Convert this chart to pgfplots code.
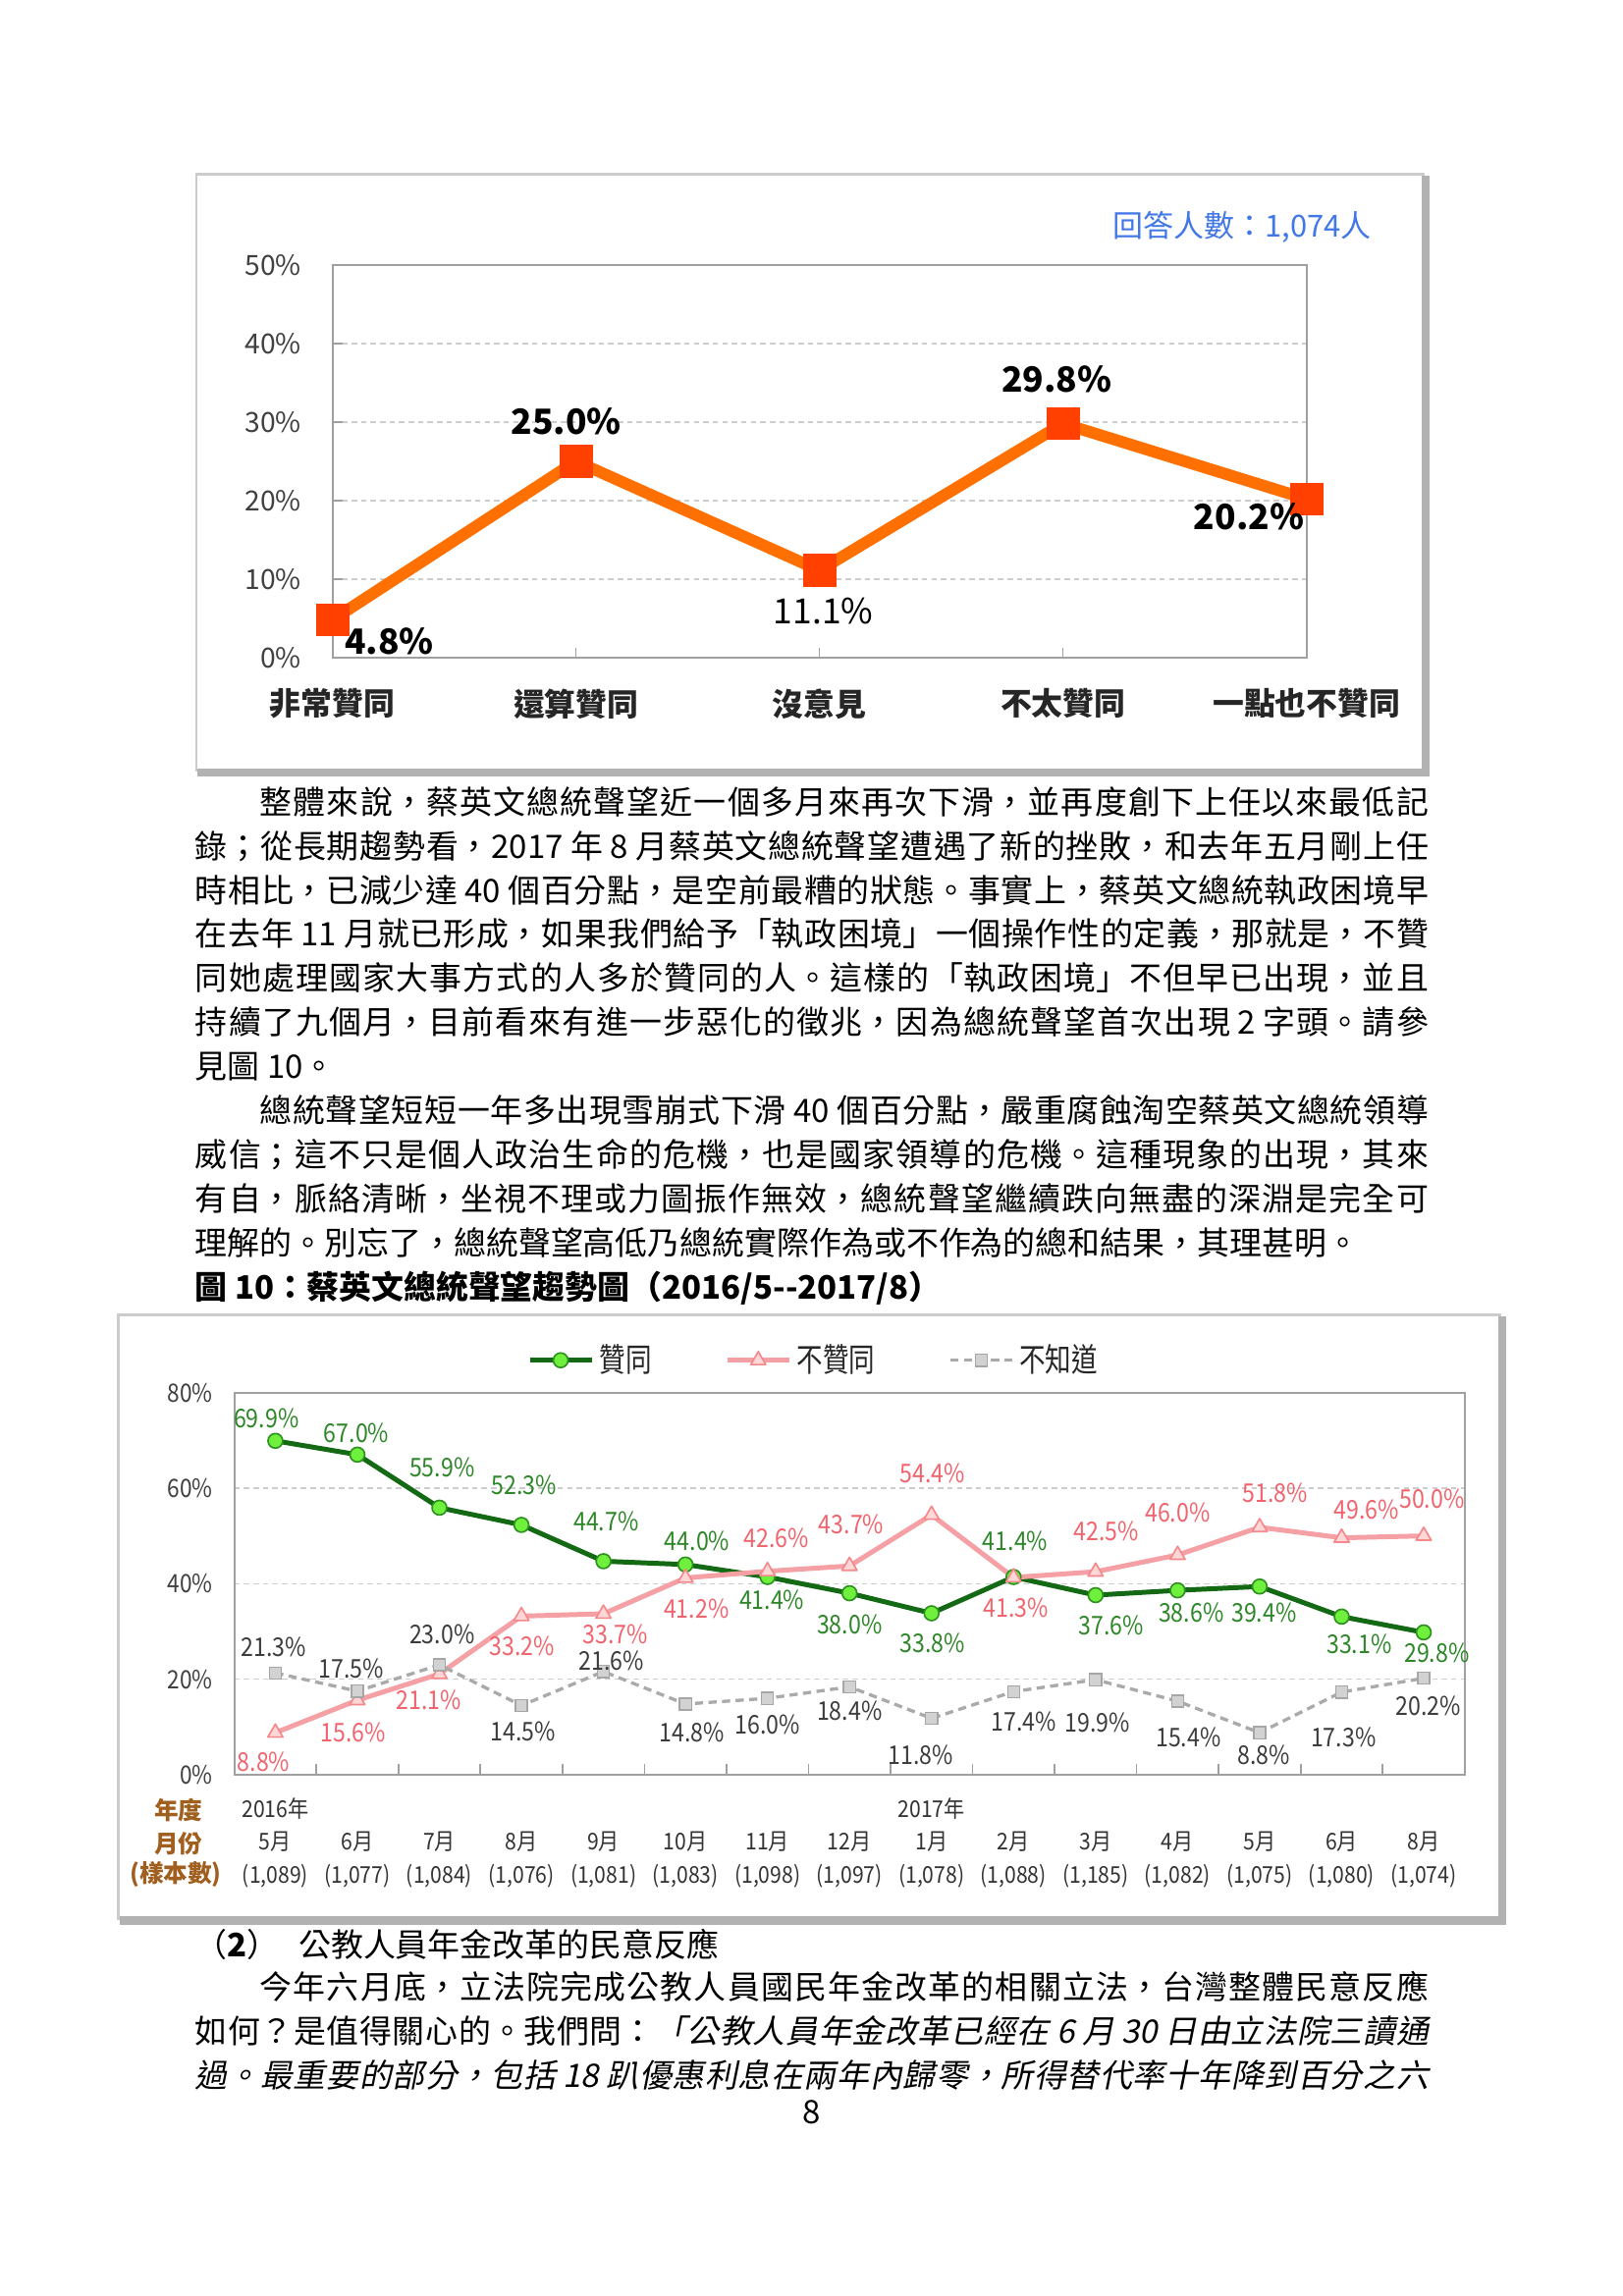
\documentclass[border=0pt]{standalone}
\usepackage{fontspec}
\usepackage{pgfplots}
\pgfplotsset{compat=1.18}
\setmainfont{Noto Sans CJK TC}
\newfontfamily\itf[FakeSlant=0.2]{Noto Sans CJK TC}
\newfontfamily\cfn[FakeStretch=0.88]{Noto Sans CJK TC}
\newfontfamily\cfc[FakeStretch=0.8]{Noto Sans CJK TC}
\newfontfamily\cfb[FakeStretch=0.9]{Noto Sans CJK TC}
\XeTeXlinebreaklocale "zh"
\XeTeXlinebreakskip=0pt plus 4pt

\definecolor{c1line}{RGB}{255,112,0}
\definecolor{c1mark}{RGB}{255,64,0}
\definecolor{blueT}{RGB}{66,120,230}
\definecolor{gline}{RGB}{20,105,20}
\definecolor{gfill}{RGB}{110,240,60}
\definecolor{gtext}{RGB}{45,135,40}
\definecolor{pline}{RGB}{245,160,165}
\definecolor{ptext}{RGB}{240,100,110}
\definecolor{pfill}{RGB}{255,215,215}
\definecolor{kline}{RGB}{170,170,170}
\definecolor{ktext}{RGB}{60,60,60}
\definecolor{brownT}{RGB}{160,95,30}
\definecolor{axgray}{RGB}{160,160,160}
\definecolor{gridgray}{RGB}{205,205,205}

\newlength\LW \setlength\LW{159.58mm}
\newcommand\Jline[3]{\node[anchor=base west,inner sep=0pt] at (#1,#2) {\parbox[b]{\LW}{\fontsize{11.9}{14}\selectfont\tolerance=10000\hbadness=10000\parindent=0pt\parfillskip=0pt #3}};}
\newcommand\Pline[3]{\node[anchor=base west,inner sep=0pt,font=\fontsize{11.9}{14}\selectfont] at (#1,#2) {#3};}

\begin{document}
\begin{tikzpicture}
\begin{scope}[x=0.18953mm,y=-0.18953mm]
\path[use as bounding box, fill=white] (0,0) rectangle (1108,1568);
% chart 1 frame
\draw[gray!40, line width=1pt] (134,119) rectangle (972,526);
\draw[gray!60, line width=3pt] (973.5,120) -- (973.5,527.5) -- (135,527.5);
\node[anchor=center, text=blueT, font=\fontsize{11.2}{13}\selectfont] at (848,155) {回答人數：1,074人};
% chart 2 frame
\draw[gray!40, line width=1pt] (81,898) rectangle (1024,1310);
\draw[gray!60, line width=3pt] (1025.5,899) -- (1025.5,1311.5) -- (82,1311.5);
% body text
\Jline{133}{555.9}{\hspace*{2em}整體來說，蔡英文總統聲望近一個多月來再次下滑，並再度創下上任以來最低記}
\Jline{133}{586.0}{錄；從長期趨勢看，2017 年 8 月蔡英文總統聲望遭遇了新的挫敗，和去年五月剛上任}
\Jline{133}{616.1}{時相比，已減少達 40 個百分點，是空前最糟的狀態。事實上，蔡英文總統執政困境早}
\Jline{133}{646.2}{在去年 11 月就已形成，如果我們給予「執政困境」一個操作性的定義，那就是，不贊}
\Jline{133}{676.3}{同她處理國家大事方式的人多於贊同的人。這樣的「執政困境」不但早已出現，並且}
\Jline{133}{706.4}{持續了九個月，目前看來有進一步惡化的徵兆，因為總統聲望首次出現 2 字頭。請參}
\Pline{133}{736.5}{見圖 10。}
\Jline{133}{766.6}{\hspace*{2em}總統聲望短短一年多出現雪崩式下滑 40 個百分點，嚴重腐蝕淘空蔡英文總統領導}
\Jline{133}{796.7}{威信；這不只是個人政治生命的危機，也是國家領導的危機。這種現象的出現，其來}
\Jline{133}{826.8}{有自，脈絡清晰，坐視不理或力圖振作無效，總統聲望繼續跌向無盡的深淵是完全可}
\Pline{133}{856.9}{理解的。別忘了，總統聲望高低乃總統實際作為或不作為的總和結果，其理甚明。}
\Pline{133}{887.4}{\bfseries 圖 10：蔡英文總統聲望趨勢圖（2016/5-{}-2017/8）}
\Pline{133}{1336.4}{（\textbf{2}）\hspace{7pt}公教人員年金改革的民意反應}
\Jline{133}{1365.4}{\hspace*{2em}今年六月底，立法院完成公教人員國民年金改革的相關立法，台灣整體民意反應}
\Jline{133}{1395.4}{如何？是值得關心的。我們問：{\itf 「公教人員年金改革已經在 6 月 30 日由立法院三讀通}}
\Jline{133}{1425.4}{{\itf 過。最重要的部分，包括 18 趴優惠利息在兩年內歸零，所得替代率十年降到百分之六}}
\node[anchor=base, inner sep=0pt, font=\fontsize{11.9}{14}\selectfont] at (554,1450) {8};
% chart 2 left labels
\node[anchor=center, text=brownT, font=\bfseries\fontsize{8.9}{10}\selectfont] at (122,1236.5) {年度};
\node[anchor=center, text=brownT, font=\bfseries\fontsize{8.9}{10}\selectfont] at (122,1259) {月份};
\node[anchor=center, text=brownT, font=\bfseries\fontsize{8.9}{10}\selectfont] at (120,1280) {(樣本數)};
\end{scope}

% ---------------- chart 1 ----------------
\begin{axis}[
 at={(43.023mm,-85.099mm)}, anchor=south west,
 scale only axis, width=126.04mm, height=50.79mm,
 xmin=0, xmax=4, ymin=0, ymax=50,
 xtick={0,1,2,3,4},
 xticklabels={非常贊同,還算贊同,沒意見,不太贊同,一點也不贊同},
 ytick={0,10,20,30,40,50},
 yticklabel={\pgfmathprintnumber{\tick}\%},
 /pgf/number format/assume math mode=true,
 tick align=inside, major tick length=3.6pt,
 xtick pos=bottom, ytick pos=left,
 tick style={color=axgray, line width=0.6pt},
 axis line style={color=axgray, line width=0.8pt},
 ymajorgrids, grid style={gridgray, dash pattern=on 2pt off 1.5pt, line width=0.5pt},
 xticklabel style={font=\bfseries\fontsize{11.5}{13}\selectfont, text=black!85, yshift=-8pt},
 yticklabel style={font=\fontsize{10.2}{12}\selectfont, text=black!75, xshift=-8pt},
 clip=false,
]
\addplot[color=c1line, line width=4.3pt, line join=round, mark=square*, mark size=5.9pt,
 mark options={draw=c1mark, fill=c1mark, line width=0.3pt, rounded corners=2.5pt},
 visualization depends on={value \thisrow{dx}\as\myDX},
 visualization depends on={value \thisrow{dy}\as\myDY},
 visualization depends on={value \thisrow{w}\as\myW},
 nodes near coords={\ifdim\myW pt>0.5pt\bfseries\fi\pgfmathprintnumber[fixed,fixed zerofill,precision=1]{\pgfplotspointmeta}\%},
 nodes near coords style={anchor=center, xshift=\myDX*0.5395pt, yshift=\myDY*0.5395pt, font=\fontsize{12.8}{15}\selectfont, text=black}]
table {
x y dx dy w
0 4.8 38.8 -14.7 1
1 25.0 -6.6 27.3 1
2 11.1 2.7 -28.1 0
3 29.8 -4.4 30.3 1
4 20.2 -39.3 -12.0 1
};
\end{axis}

% ---------------- chart 2 ----------------
\begin{axis}[
 at={(30.325mm,-229.71mm)}, anchor=south west,
 scale only axis, width=159.21mm, height=49.47mm,
 xmin=-0.5, xmax=14.5, ymin=0, ymax=80,
 xtick={0,...,14}, minor x tick num=1,
 xticklabels={
 {\strut 2016年\\\strut 5月\\\strut (1,089)},
 {\strut\\\strut 6月\\\strut (1,077)},
 {\strut\\\strut 7月\\\strut (1,084)},
 {\strut\\\strut 8月\\\strut (1,076)},
 {\strut\\\strut 9月\\\strut (1,081)},
 {\strut\\\strut 10月\\\strut (1,083)},
 {\strut\\\strut 11月\\\strut (1,098)},
 {\strut\\\strut 12月\\\strut (1,097)},
 {\strut 2017年\\\strut 1月\\\strut (1,078)},
 {\strut\\\strut 2月\\\strut (1,088)},
 {\strut\\\strut 3月\\\strut (1,185)},
 {\strut\\\strut 4月\\\strut (1,082)},
 {\strut\\\strut 5月\\\strut (1,075)},
 {\strut\\\strut 6月\\\strut (1,080)},
 {\strut\\\strut 8月\\\strut (1,074)}},
 ytick={0,20,40,60,80},
 yticklabel={\pgfmathprintnumber{\tick}\%},
 /pgf/number format/assume math mode=true,
 major tick length=0pt, minor tick length=4pt, tick align=inside,
 xtick pos=bottom, ytick pos=left,
 tick style={color=axgray, line width=0.6pt},
 axis line style={color=axgray, line width=0.8pt},
 ymajorgrids, grid style={gridgray, dash pattern=on 2pt off 1.5pt, line width=0.5pt},
 xticklabel style={align=center, font=\cfb\fontsize{8.5}{12}\selectfont, text=black!80, yshift=-3.9pt},
 yticklabel style={font=\cfn\fontsize{9.3}{11}\selectfont, text=black!75, xshift=-4.5pt},
 clip=false,
 legend style={at={(0.472,1)}, anchor=center, yshift=11.9pt, draw=none, fill=none,
   font=\cfc\fontsize{12}{14}\selectfont, text=black!85,
   /tikz/every even column/.append style={column sep=25pt}},
 legend columns=3,
 legend image code/.code={\draw[mark repeat=2,mark phase=2,#1] plot coordinates {(0cm,0cm) (0.4cm,0cm) (0.8cm,0cm)};},
 visualization depends on={value \thisrow{dx}\as\myDX},
 visualization depends on={value \thisrow{dy}\as\myDY},
 nodes near coords={\pgfmathprintnumber[fixed,fixed zerofill,precision=1]{\pgfplotspointmeta}\%},
]
\addplot[color=gline, line width=1.8pt, line join=round, mark=*, mark size=2.7pt,
 mark options={fill=gfill, draw=gline!70!gfill, line width=0.6pt},
 nodes near coords style={anchor=center, xshift=\myDX*0.5395pt, yshift=\myDY*0.5395pt, font=\cfn\fontsize{9.5}{11}\selectfont, text=gtext}]
table {
x y dx dy
0 69.9 -6.2 15.6
1 67.0 -0.6 14.5
2 55.9 1.8 27.4
3 52.3 1.8 27.4
4 44.7 1.8 27
5 44.0 8 16.4
6 41.4 3 -15.9
7 38.0 0 -21
8 33.8 0.6 -20.5
9 41.4 1.2 24.6
10 37.6 10.5 -21
11 38.6 9.3 -15
12 39.4 3 -17.8
13 33.1 12 -18.5
14 29.8 9 -14
};
\addlegendentry{贊同}
\addplot[color=pline, line width=1.8pt, line join=round, mark=triangle*, mark size=3.2pt,
 mark options={fill=pfill, draw=pline!85!red, line width=0.6pt},
 nodes near coords style={anchor=center, xshift=\myDX*0.5395pt, yshift=\myDY*0.5395pt, font=\cfn\fontsize{9.5}{11}\selectfont, text=ptext}]
table {
x y dx dy
0 8.8 -8 -20
1 15.6 -3 -21.9
2 21.1 -7.4 -17.8
3 33.2 0.6 -20.2
4 33.7 8 -14.2
5 41.2 7.4 -21
6 42.6 6.2 22.7
7 43.7 1.2 28.2
8 54.4 0.6 28.5
9 41.3 1.8 -20.5
10 42.5 7.4 27.6
11 46.0 0 28.7
12 51.8 10.5 23.8
13 49.6 17 19
14 50.0 5.6 25
};
\addlegendentry{不贊同}
\addplot[color=kline, line width=1.2pt, dash pattern=on 3pt off 2pt, mark=square*, mark size=2.2pt,
 mark options={solid, fill=gray!35, draw=gray!70, line width=0.5pt},
 nodes near coords style={anchor=center, xshift=\myDX*0.5395pt, yshift=\myDY*0.5395pt, font=\cfn\fontsize{9.5}{11}\selectfont, text=ktext}]
table {
x y dx dy
0 21.3 -1.2 17.8
1 17.5 -4.3 15.6
2 23.0 1.8 21
3 14.5 1.2 -17.8
4 21.6 5.5 7.7
5 14.8 4.3 -19.7
6 16.0 0 -17.8
7 18.4 0 -16.4
8 11.8 -7.4 -25.2
9 17.4 6.8 -20.5
10 19.9 1.2 -29.5
11 15.4 7.4 -24.6
12 8.8 3 -15
13 17.3 1.2 -30.6
14 20.2 3 -18.6
};
\addlegendentry{不知道}
\end{axis}
\end{tikzpicture}
\end{document}
